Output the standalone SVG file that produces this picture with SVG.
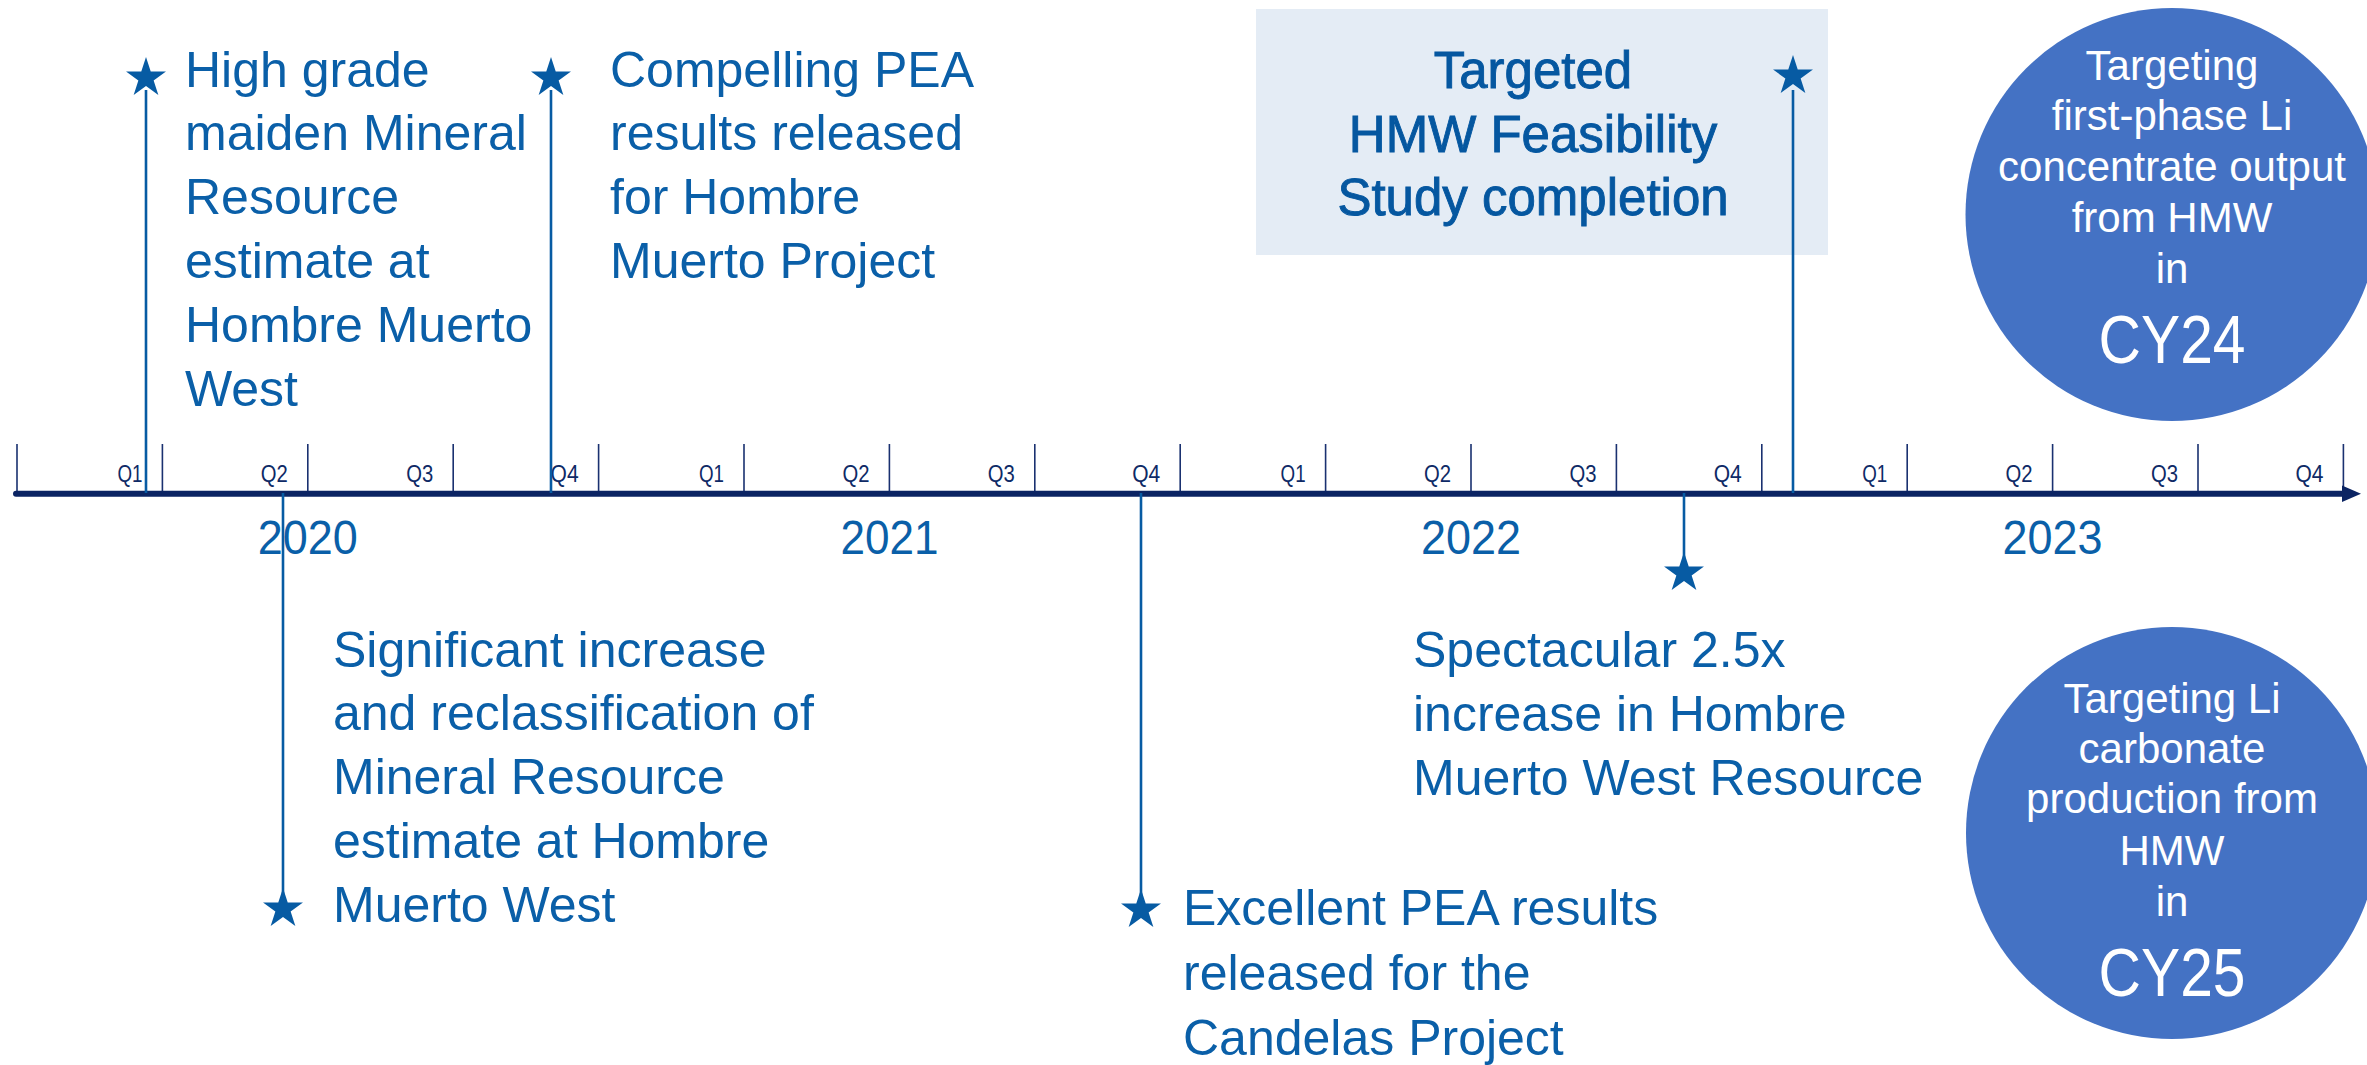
<svg xmlns="http://www.w3.org/2000/svg" xmlns:xlink="http://www.w3.org/1999/xlink" width="2367" height="1065" viewBox="0 0 2367 1065">
<style>
  .ev { font-family: "Liberation Sans", Arial, sans-serif; font-size: 50px; fill: #0A5FA8; }
  .box { font-family: "Liberation Sans", Arial, sans-serif; font-size: 51px; fill: #0557A0; stroke: #0557A0; stroke-width: 0.9px; text-anchor: middle; }
  .q { font-family: "Liberation Sans", Arial, sans-serif; font-size: 24px; fill: #0E2A66; text-anchor: end; }
  .yr { font-family: "Liberation Sans", Arial, sans-serif; font-size: 48px; fill: #0A5FA8; text-anchor: middle; }
  .ct { font-family: "Liberation Sans", Arial, sans-serif; font-size: 42px; fill: #FFFFFF; text-anchor: middle; }
  .cy { font-family: "Liberation Sans", Arial, sans-serif; font-size: 69px; fill: #FFFFFF; text-anchor: middle; }
  .conn { stroke: #075BA3; stroke-width: 2.6; fill: none; }
  .tick { stroke: #1A3170; stroke-width: 1.6; fill: none; }
  .star { fill: #075BA3; }
</style>
<defs>
  <polygon id="star" points="0,-21 4.72,-6.5 19.97,-6.49 7.64,2.48 12.34,16.99 0,8.03 -12.34,16.99 -7.64,2.48 -19.97,-6.49 -4.72,-6.5"/>
</defs>
<rect width="2367" height="1065" fill="#FFFFFF"/>

<g id="feasibility-box">
  <rect x="1256" y="9" width="572" height="246" fill="#E4ECF5"/>
  <text class="box" x="1533" y="88">Targeted</text>
  <text class="box" x="1533" y="152">HMW Feasibility</text>
  <text class="box" x="1533" y="215">Study completion</text>
</g>

<g id="timeline-axis">
  <path class="tick" d="M17,444V493 M162.4,444V493 M307.8,444V493 M453.2,444V493 M598.6,444V493 M744,444V493 M889.4,444V493 M1034.8,444V493 M1180.2,444V493 M1325.6,444V493 M1471,444V493 M1616.4,444V493 M1761.8,444V493 M1907.2,444V493 M2052.6,444V493 M2198,444V493 M2343.4,444V493"/>
  <line x1="16" y1="493.7" x2="2346" y2="493.7" stroke="#0B2463" stroke-width="6" stroke-linecap="round"/>
  <polygon points="2342,485.5 2361,493.7 2342,502" fill="#0B2463"/>
  <g id="quarters">
    <text class="q" x="142.4" y="482" textLength="25" lengthAdjust="spacingAndGlyphs">Q1</text>
    <text class="q" x="287.8" y="482" textLength="27" lengthAdjust="spacingAndGlyphs">Q2</text>
    <text class="q" x="433.2" y="482" textLength="27" lengthAdjust="spacingAndGlyphs">Q3</text>
    <text class="q" x="578.6" y="482" textLength="28" lengthAdjust="spacingAndGlyphs">Q4</text>
    <text class="q" x="724" y="482" textLength="25" lengthAdjust="spacingAndGlyphs">Q1</text>
    <text class="q" x="869.4" y="482" textLength="27" lengthAdjust="spacingAndGlyphs">Q2</text>
    <text class="q" x="1014.8" y="482" textLength="27" lengthAdjust="spacingAndGlyphs">Q3</text>
    <text class="q" x="1160.2" y="482" textLength="28" lengthAdjust="spacingAndGlyphs">Q4</text>
    <text class="q" x="1305.6" y="482" textLength="25" lengthAdjust="spacingAndGlyphs">Q1</text>
    <text class="q" x="1451" y="482" textLength="27" lengthAdjust="spacingAndGlyphs">Q2</text>
    <text class="q" x="1596.4" y="482" textLength="27" lengthAdjust="spacingAndGlyphs">Q3</text>
    <text class="q" x="1741.8" y="482" textLength="28" lengthAdjust="spacingAndGlyphs">Q4</text>
    <text class="q" x="1887.2" y="482" textLength="25" lengthAdjust="spacingAndGlyphs">Q1</text>
    <text class="q" x="2032.6" y="482" textLength="27" lengthAdjust="spacingAndGlyphs">Q2</text>
    <text class="q" x="2178" y="482" textLength="27" lengthAdjust="spacingAndGlyphs">Q3</text>
    <text class="q" x="2323.4" y="482" textLength="28" lengthAdjust="spacingAndGlyphs">Q4</text>
  </g>
  <g id="years">
    <text class="yr" x="307.8" y="554" textLength="100" lengthAdjust="spacingAndGlyphs">2020</text>
    <text class="yr" x="889.4" y="554" textLength="98" lengthAdjust="spacingAndGlyphs">2021</text>
    <text class="yr" x="1471" y="554" textLength="100" lengthAdjust="spacingAndGlyphs">2022</text>
    <text class="yr" x="2052.6" y="554" textLength="100" lengthAdjust="spacingAndGlyphs">2023</text>
  </g>
</g>

<g id="connectors">
  <line class="conn" x1="146" y1="90" x2="146" y2="493"/>
  <line class="conn" x1="551" y1="90" x2="551" y2="493"/>
  <line class="conn" x1="1793" y1="90" x2="1793" y2="493"/>
  <line class="conn" x1="283" y1="493" x2="283" y2="900"/>
  <line class="conn" x1="1141" y1="493" x2="1141" y2="900"/>
  <line class="conn" x1="1684" y1="493" x2="1684" y2="565"/>
</g>

<g id="event-2020-q1">
  <use href="#star" class="star" x="146" y="78"/>
  <text class="ev" x="185" y="87">High grade</text>
  <text class="ev" x="185" y="150">maiden Mineral</text>
  <text class="ev" x="185" y="214">Resource</text>
  <text class="ev" x="185" y="278">estimate at</text>
  <text class="ev" x="185" y="342">Hombre Muerto</text>
  <text class="ev" x="185" y="406">West</text>
</g>

<g id="event-2020-q4">
  <use href="#star" class="star" x="551" y="78"/>
  <text class="ev" x="610" y="87">Compelling PEA</text>
  <text class="ev" x="610" y="150">results released</text>
  <text class="ev" x="610" y="214">for Hombre</text>
  <text class="ev" x="610" y="278">Muerto Project</text>
</g>

<g id="event-2023-q1">
  <use href="#star" class="star" x="1793" y="76"/>
</g>

<g id="event-2020-q2">
  <use href="#star" class="star" x="283" y="909"/>
  <text class="ev" x="333" y="667">Significant increase</text>
  <text class="ev" x="333" y="730">and reclassification of</text>
  <text class="ev" x="333" y="794">Mineral Resource</text>
  <text class="ev" x="333" y="858">estimate at Hombre</text>
  <text class="ev" x="333" y="922">Muerto West</text>
</g>

<g id="event-2021-q4">
  <use href="#star" class="star" x="1141" y="910"/>
  <text class="ev" x="1183" y="925">Excellent PEA results</text>
  <text class="ev" x="1183" y="990">released for the</text>
  <text class="ev" x="1183" y="1055">Candelas Project</text>
</g>

<g id="event-2022-q4">
  <use href="#star" class="star" x="1684" y="573"/>
  <text class="ev" x="1413" y="667">Spectacular 2.5x</text>
  <text class="ev" x="1413" y="731">increase in Hombre</text>
  <text class="ev" x="1413" y="795">Muerto West Resource</text>
</g>

<g id="target-cy24">
  <circle cx="2172" cy="214.5" r="206.5" fill="#4472C4"/>
  <text class="ct" x="2172" y="80">Targeting</text>
  <text class="ct" x="2172" y="130">first-phase Li</text>
  <text class="ct" x="2172" y="181">concentrate output</text>
  <text class="ct" x="2172" y="232">from HMW</text>
  <text class="ct" x="2172" y="283">in</text>
  <text class="cy" x="2172" y="363" textLength="147" lengthAdjust="spacingAndGlyphs">CY24</text>
</g>

<g id="target-cy25">
  <circle cx="2172" cy="833" r="206" fill="#4472C4"/>
  <text class="ct" x="2172" y="713">Targeting Li</text>
  <text class="ct" x="2172" y="763">carbonate</text>
  <text class="ct" x="2172" y="813">production from</text>
  <text class="ct" x="2172" y="865">HMW</text>
  <text class="ct" x="2172" y="916">in</text>
  <text class="cy" x="2172" y="996" textLength="147" lengthAdjust="spacingAndGlyphs">CY25</text>
</g>
</svg>
